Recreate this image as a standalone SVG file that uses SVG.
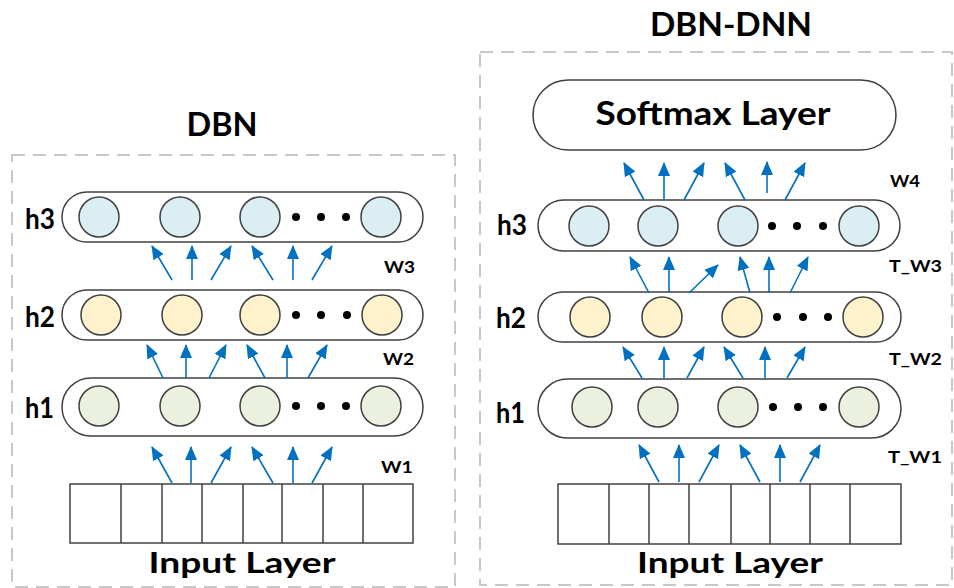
<svg xmlns="http://www.w3.org/2000/svg" width="954" height="588" viewBox="0 0 954 588">
  <defs>
    <marker id="head" markerUnits="userSpaceOnUse" markerWidth="14" markerHeight="12" refX="13" refY="6" orient="auto">
      <path d="M0,0 L14,6 L0,12 z" fill="#0070c0"/>
    </marker>
    <style>
      .frame { fill: none; stroke: #c8c8c8; stroke-width: 2; stroke-dasharray: 13 8; }
      .pill { fill: #ffffff; stroke: #404040; stroke-width: 1.5; }
      .blue { fill: #daeef3; stroke: #404040; stroke-width: 1.5; }
      .yellow { fill: #fff2cc; stroke: #404040; stroke-width: 1.5; }
      .green { fill: #ebf1de; stroke: #404040; stroke-width: 1.5; }
      .dot { fill: #000000; }
      .cell { fill: #ffffff; stroke: #404040; stroke-width: 1.5; }
      .arrow { stroke: #0070c0; stroke-width: 1.6; fill: none; marker-end: url(#head); }
      .title { font-family: Lato, "Liberation Sans", sans-serif; font-weight: bold; font-size: 32px; fill: #000; text-anchor: middle; }
      .lay { font-family: Lato, "Liberation Sans", sans-serif; font-weight: bold; font-size: 28px; fill: #000; }
      .w { font-family: Lato, "Liberation Sans", sans-serif; font-weight: bold; font-size: 17px; fill: #000; }
      .big { font-family: Lato, "Liberation Sans", sans-serif; font-weight: bold; font-size: 28px; fill: #000; text-anchor: middle; }
    </style>
  </defs>

  <!-- panel frames -->
  <rect class="frame" x="12" y="155" width="443" height="432"/>
  <rect class="frame" x="480" y="52" width="472" height="533"/>

  <!-- titles -->
  <text class="title" x="222" y="136" textLength="71" lengthAdjust="spacingAndGlyphs">DBN</text>
  <text class="title" x="731" y="36" textLength="162" lengthAdjust="spacingAndGlyphs">DBN-DNN</text>

  <!-- ===== DBN (left) ===== -->
  <g id="dbn-h3">
    <rect class="pill" x="62" y="192" width="361" height="50" rx="25"/>
    <circle class="blue" cx="99" cy="217" r="20"/>
    <circle class="blue" cx="180" cy="217" r="20"/>
    <circle class="blue" cx="260" cy="217" r="20"/>
    <circle class="dot" cx="296" cy="217" r="4"/>
    <circle class="dot" cx="321" cy="217" r="4"/>
    <circle class="dot" cx="346" cy="217" r="4"/>
    <circle class="blue" cx="381" cy="217" r="20"/>
    <text class="lay" x="25" y="229" textLength="30" lengthAdjust="spacingAndGlyphs">h3</text>
  </g>
  <g id="dbn-h2">
    <rect class="pill" x="62" y="290" width="361" height="50" rx="25"/>
    <circle class="yellow" cx="101" cy="315" r="20"/>
    <circle class="yellow" cx="182" cy="315" r="20"/>
    <circle class="yellow" cx="260" cy="315" r="20"/>
    <circle class="dot" cx="296" cy="315" r="4"/>
    <circle class="dot" cx="321" cy="315" r="4"/>
    <circle class="dot" cx="347" cy="315" r="4"/>
    <circle class="yellow" cx="382" cy="315" r="20"/>
    <text class="lay" x="25" y="327" textLength="30" lengthAdjust="spacingAndGlyphs">h2</text>
  </g>
  <g id="dbn-h1">
    <rect class="pill" x="62" y="378" width="361" height="58" rx="29"/>
    <circle class="green" cx="99" cy="406" r="20"/>
    <circle class="green" cx="180" cy="406" r="20"/>
    <circle class="green" cx="260" cy="406" r="20"/>
    <circle class="dot" cx="296" cy="406" r="4"/>
    <circle class="dot" cx="321" cy="406" r="4"/>
    <circle class="dot" cx="346" cy="406" r="4"/>
    <circle class="green" cx="381" cy="406" r="20"/>
    <text class="lay" x="25" y="418" textLength="29" lengthAdjust="spacingAndGlyphs">h1</text>
  </g>
  <g id="dbn-input">
    <rect class="cell" x="70" y="484" width="343" height="59"/>
    <path class="cell" d="M121,484V543M162,484V543M202,484V543M243,484V543M282,484V543M323,484V543M363,484V543"/>
    <text class="big" x="242" y="573" textLength="187" lengthAdjust="spacingAndGlyphs">Input Layer</text>
  </g>

  <!-- ===== DBN-DNN (right) ===== -->
  <g id="dnn-softmax">
    <rect class="pill" x="533" y="80" width="363" height="70" rx="35"/>
    <text class="title" x="713" y="125" textLength="235" lengthAdjust="spacingAndGlyphs">Softmax Layer</text>
  </g>
  <g id="dnn-h3">
    <rect class="pill" x="538" y="200" width="362" height="51" rx="25.5"/>
    <circle class="blue" cx="589" cy="226" r="20"/>
    <circle class="blue" cx="658" cy="226" r="20"/>
    <circle class="blue" cx="738" cy="226" r="20"/>
    <circle class="dot" cx="772" cy="226" r="4"/>
    <circle class="dot" cx="797" cy="226" r="4"/>
    <circle class="dot" cx="823" cy="226" r="4"/>
    <circle class="blue" cx="859" cy="226" r="20"/>
    <text class="lay" x="497" y="235" textLength="30" lengthAdjust="spacingAndGlyphs">h3</text>
  </g>
  <g id="dnn-h2">
    <rect class="pill" x="538" y="292" width="363" height="50" rx="25"/>
    <circle class="yellow" cx="590" cy="317" r="20"/>
    <circle class="yellow" cx="662" cy="317" r="20"/>
    <circle class="yellow" cx="742" cy="317" r="20"/>
    <circle class="dot" cx="777" cy="317" r="4"/>
    <circle class="dot" cx="803" cy="317" r="4"/>
    <circle class="dot" cx="828" cy="317" r="4"/>
    <circle class="yellow" cx="863" cy="317" r="20"/>
    <text class="lay" x="496" y="328" textLength="30" lengthAdjust="spacingAndGlyphs">h2</text>
  </g>
  <g id="dnn-h1">
    <rect class="pill" x="538" y="379" width="363" height="59" rx="29.5"/>
    <circle class="green" cx="592" cy="407" r="20"/>
    <circle class="green" cx="658" cy="407" r="20"/>
    <circle class="green" cx="738" cy="407" r="20"/>
    <circle class="dot" cx="773" cy="407" r="4"/>
    <circle class="dot" cx="798" cy="407" r="4"/>
    <circle class="dot" cx="823" cy="407" r="4"/>
    <circle class="green" cx="859" cy="407" r="20"/>
    <text class="lay" x="496" y="423" textLength="29" lengthAdjust="spacingAndGlyphs">h1</text>
  </g>
  <g id="dnn-input">
    <rect class="cell" x="558" y="484" width="343" height="60"/>
    <path class="cell" d="M609,484V544M649,484V544M689,484V544M731,484V544M770,484V544M810,484V544M850,484V544"/>
    <text class="big" x="730" y="573" textLength="186" lengthAdjust="spacingAndGlyphs">Input Layer</text>
  </g>

  <!-- weight labels -->
  <g id="weight-labels">
    <text class="w" x="384" y="273" textLength="31" lengthAdjust="spacingAndGlyphs">W3</text>
    <text class="w" x="383" y="365" textLength="31" lengthAdjust="spacingAndGlyphs">W2</text>
    <text class="w" x="381" y="473" textLength="32" lengthAdjust="spacingAndGlyphs">W1</text>
    <text class="w" x="890" y="187" textLength="30" lengthAdjust="spacingAndGlyphs">W4</text>
    <text class="w" x="889" y="272" textLength="53" lengthAdjust="spacingAndGlyphs">T_W3</text>
    <text class="w" x="889" y="365" textLength="53" lengthAdjust="spacingAndGlyphs">T_W2</text>
    <text class="w" x="888" y="463" textLength="54" lengthAdjust="spacingAndGlyphs">T_W1</text>
  </g>

  <!-- connectors -->
  <g id="connectors">
    <!-- DBN: W3 -->
    <line class="arrow" x1="172" y1="280" x2="152" y2="246"/>
    <line class="arrow" x1="192" y1="280" x2="192" y2="246"/>
    <line class="arrow" x1="211" y1="280" x2="231" y2="246"/>
    <line class="arrow" x1="273" y1="280" x2="252" y2="246"/>
    <line class="arrow" x1="293" y1="280" x2="293" y2="246"/>
    <line class="arrow" x1="312" y1="280" x2="332" y2="246"/>
    <!-- DBN: W2 -->
    <line class="arrow" x1="163" y1="378" x2="147" y2="345"/>
    <line class="arrow" x1="186" y1="378" x2="186" y2="345"/>
    <line class="arrow" x1="209" y1="378" x2="226" y2="345"/>
    <line class="arrow" x1="265" y1="378" x2="247" y2="345"/>
    <line class="arrow" x1="287" y1="378" x2="287" y2="345"/>
    <line class="arrow" x1="308" y1="378" x2="327" y2="345"/>
    <!-- DBN: W1 -->
    <line class="arrow" x1="172" y1="483" x2="152" y2="447"/>
    <line class="arrow" x1="191" y1="483" x2="191" y2="447"/>
    <line class="arrow" x1="211" y1="483" x2="231" y2="447"/>
    <line class="arrow" x1="273" y1="483" x2="252" y2="447"/>
    <line class="arrow" x1="293" y1="483" x2="293" y2="447"/>
    <line class="arrow" x1="312" y1="483" x2="332" y2="447"/>
    <!-- DBN-DNN: W4 -->
    <line class="arrow" x1="644" y1="200" x2="624" y2="163"/>
    <line class="arrow" x1="664" y1="200" x2="664" y2="163"/>
    <line class="arrow" x1="684" y1="200" x2="704" y2="163"/>
    <line class="arrow" x1="745" y1="200" x2="725" y2="163"/>
    <line class="arrow" x1="767" y1="193" x2="767" y2="162"/>
    <line class="arrow" x1="785" y1="200" x2="805" y2="163"/>
    <!-- DBN-DNN: T_W3 -->
    <line class="arrow" x1="649" y1="293" x2="630" y2="257"/>
    <line class="arrow" x1="669" y1="293" x2="669" y2="257"/>
    <line class="arrow" x1="689" y1="293" x2="718" y2="265"/>
    <line class="arrow" x1="750" y1="293" x2="740" y2="257"/>
    <line class="arrow" x1="769" y1="293" x2="769" y2="257"/>
    <line class="arrow" x1="790" y1="293" x2="808" y2="257"/>
    <!-- DBN-DNN: T_W2 -->
    <line class="arrow" x1="642" y1="378" x2="623" y2="347"/>
    <line class="arrow" x1="664" y1="378" x2="664" y2="347"/>
    <line class="arrow" x1="687" y1="378" x2="704" y2="347"/>
    <line class="arrow" x1="743" y1="378" x2="724" y2="347"/>
    <line class="arrow" x1="765" y1="378" x2="765" y2="347"/>
    <line class="arrow" x1="787" y1="378" x2="805" y2="347"/>
    <!-- DBN-DNN: T_W1 -->
    <line class="arrow" x1="659" y1="482" x2="639" y2="445"/>
    <line class="arrow" x1="679" y1="482" x2="679" y2="445"/>
    <line class="arrow" x1="699" y1="482" x2="719" y2="445"/>
    <line class="arrow" x1="760" y1="482" x2="740" y2="445"/>
    <line class="arrow" x1="780" y1="482" x2="780" y2="445"/>
    <line class="arrow" x1="800" y1="482" x2="820" y2="445"/>
  </g>
</svg>
